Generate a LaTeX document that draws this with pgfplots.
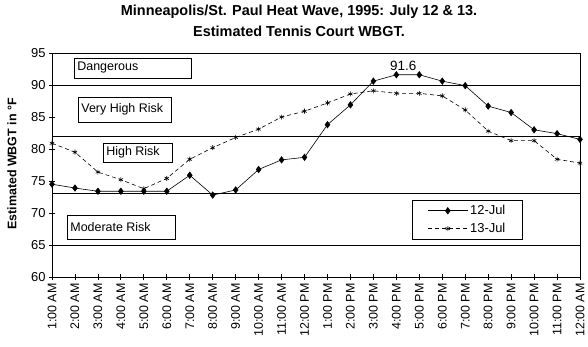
\documentclass[border=0pt]{standalone}
\usepackage{pgfplots}
\pgfplotsset{compat=1.18}
\usepackage{fontspec}
\setmainfont{Liberation Sans}
\begin{document}
\begin{tikzpicture}[x=1bp,y=1bp]
\path (0,0) rectangle (588,346);
\coordinate (A) at (52,69);
\node[font=\bfseries\fontsize{14.5}{16}\selectfont] at (299,334) {Minneapolis/St. Paul Heat Wave, 1995: July 12 \& 13.};
\node[font=\bfseries\fontsize{14.5}{16}\selectfont] at (299,315) {Estimated Tennis Court WBGT.};
\node[font=\bfseries\fontsize{12.5}{14}\selectfont, rotate=90] at (12,182) {Estimated WBGT in °F};
\begin{axis}[at={(A)}, anchor=south west, scale only axis,
  width=528bp, height=224bp,
  xmin=1, xmax=24, ymin=60, ymax=95,
  ytick={60,65,...,95},
  xtick={1,...,24},
  xticklabels={1:00 AM,2:00 AM,3:00 AM,4:00 AM,5:00 AM,6:00 AM,7:00 AM,8:00 AM,9:00 AM,10:00 AM,11:00 AM,12:00 PM,1:00 PM,2:00 PM,3:00 PM,4:00 PM,5:00 PM,6:00 PM,7:00 PM,8:00 PM,9:00 PM,10:00 PM,11:00 PM,12:00 AM},
  xticklabel style={rotate=90, anchor=east, font=\fontsize{12.5}{13}\selectfont},
  yticklabel style={font=\fontsize{13}{14}\selectfont},
  /pgf/number format/assume math mode=true,
  tick align=center, major tick length=6bp,
  tick style={black, line width=0.8bp},
  xtick pos=bottom, ytick pos=left,
  axis line style={line width=0.8bp},
  clip=false,
  legend style={at={(0.682,0.344)}, anchor=north west, draw=black, line width=0.8bp,
    font=\fontsize{13}{14}\selectfont, row sep=3bp, inner xsep=15bp, inner ysep=3bp},
  legend cell align=left,
  legend image code/.code={\draw[mark repeat=2,mark phase=2,#1] plot coordinates {(0bp,0bp) (20bp,0bp) (40bp,0bp)};},
]
\draw[line width=0.8bp] (axis cs:1,90) -- (axis cs:24,90);
\draw[line width=0.8bp] (axis cs:1,81.9) -- (axis cs:24,81.9);
\draw[line width=0.8bp] (axis cs:1,73) -- (axis cs:24,73);
\draw[line width=0.8bp] (axis cs:1,65) -- (axis cs:24,65);
\addplot[black, line width=0.6bp, mark=diamond*, mark size=3.2bp, mark options={solid}] coordinates {
(1,74.5) (2,73.9) (3,73.4) (4,73.4) (5,73.4) (6,73.4) (7,75.9) (8,72.8) (9,73.6) (10,76.8) (11,78.3) (12,78.7)
(13,83.8) (14,86.9) (15,90.6) (16,91.6) (17,91.6) (18,90.6) (19,89.9) (20,86.7) (21,85.7) (22,83.0) (23,82.4) (24,81.5)};
\addlegendentry{12-Jul}
\addplot[black, line width=0.6bp, dash pattern=on 4bp off 3bp, mark=asterisk, mark size=2.5bp, mark options={solid, line width=0.6bp}] coordinates {
(1,80.9) (2,79.5) (3,76.4) (4,75.2) (5,73.8) (6,75.4) (7,78.4) (8,80.2) (9,81.8) (10,83.1) (11,85.0) (12,85.9)
(13,87.2) (14,88.6) (15,89.1) (16,88.7) (17,88.7) (18,88.3) (19,86.1) (20,82.8) (21,81.3) (22,81.3) (23,78.4) (24,77.8)};
\addlegendentry{13-Jul}
\node[anchor=south, font=\fontsize{13.5}{14}\selectfont, inner sep=1bp] at (axis cs:16.3,92.0) {91.6};
\end{axis}
\begin{scope}[line width=0.8bp, every node/.style={font=\fontsize{12.5}{14}\selectfont, anchor=west, inner sep=1bp}]
\draw (74,268) rectangle (191,288); \node at (76,278) {Dangerous};
\draw (78,224) rectangle (171,249); \node at (80,236.5) {Very High Risk};
\draw (103,184) rectangle (172,203); \node at (105,193.5) {High Risk};
\draw (67,107) rectangle (175,131); \node at (69,119) {Moderate Risk};
\end{scope}
\pgfresetboundingbox
\path[use as bounding box] (0,0) rectangle (588,346);
\end{tikzpicture}
\end{document}
